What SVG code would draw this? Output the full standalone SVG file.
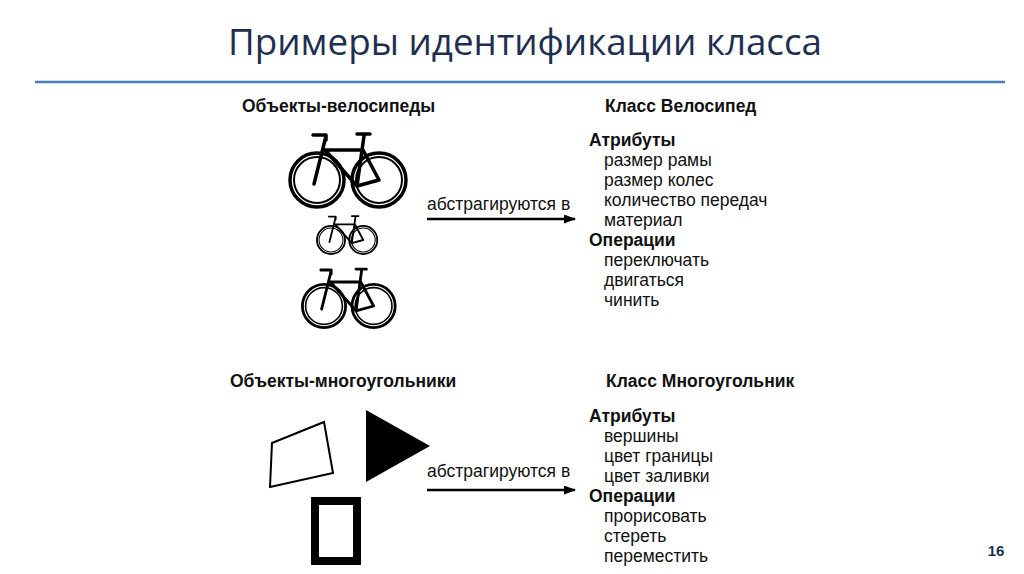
<svg xmlns="http://www.w3.org/2000/svg" width="1024" height="574" viewBox="0 0 1024 574">
<style>
.t{font-family:"Liberation Sans",Arial,sans-serif;font-size:17.5px;fill:#111}
.b{font-weight:bold}
.bk{fill:none;stroke:#000;stroke-width:3.5;stroke-linecap:round;stroke-linejoin:round}
</style>
<defs>
<marker id="ah" markerWidth="12" markerHeight="9" refX="11" refY="4.5" orient="auto" markerUnits="userSpaceOnUse"><path d="M0,0L12,4.5L0,9z" fill="#000"/></marker>
<g id="bike" class="bk">
<circle cx="0" cy="0" r="27"/><circle cx="0" cy="0" r="23" stroke-width="2"/>
<circle cx="62" cy="0" r="27"/><circle cx="62" cy="0" r="23" stroke-width="2"/>
<path d="M-3,4L9,-44M-4,-45H9V-40M8,-30H46M8,-30L40,6M47,-44L40,6M40,-46H53M40,6L62,0L46,-30"/>
</g>
</defs>
<rect width="1024" height="574" fill="#fff"/>
<text x="228" y="55" textLength="594" lengthAdjust="spacingAndGlyphs" font-family="'Open Sans','Liberation Sans',sans-serif" font-size="36" fill="#1f2f4f">Примеры идентификации класса</text>
<line x1="35" y1="82" x2="1005" y2="82" stroke="#4a7ebb" stroke-width="2.5"/>
<g id="bikes">
<use href="#bike" transform="translate(317,180)"/>
<use href="#bike" transform="translate(331,240) scale(0.52)"/>
<use href="#bike" transform="translate(324,306) scale(0.8)"/>
</g>
<g id="shapes">
<polygon points="272,443 324,422 333,473 270,487" fill="none" stroke="#000" stroke-width="2"/>
<polygon points="366,410 430,446 366,482" fill="#000"/>
<rect x="315" y="501" width="42" height="60" fill="none" stroke="#000" stroke-width="8"/>
</g>
<g id="labels">
<text class="t b" x="242" y="112">Объекты-велосипеды</text>
<text class="t b" x="605" y="112">Класс Велосипед</text>
<text class="t b" x="230" y="387">Объекты-многоугольники</text>
<text class="t b" x="606" y="387">Класс Многоугольник</text>
</g>
<g id="class1" class="t">
<text class="b" x="589" y="146">Атрибуты</text>
<text x="604" y="166">размер рамы</text>
<text x="604" y="186">размер колес</text>
<text x="604" y="206">количество передач</text>
<text x="604" y="226">материал</text>
<text class="b" x="589" y="246">Операции</text>
<text x="604" y="266">переключать</text>
<text x="604" y="286">двигаться</text>
<text x="604" y="306">чинить</text>
</g>
<g id="class2" class="t">
<text class="b" x="589" y="422">Атрибуты</text>
<text x="604" y="442">вершины</text>
<text x="604" y="462">цвет границы</text>
<text x="604" y="482">цвет заливки</text>
<text class="b" x="589" y="502">Операции</text>
<text x="604" y="522">прорисовать</text>
<text x="604" y="542">стереть</text>
<text x="604" y="562">переместить</text>
</g>
<g id="connectors">
<line x1="427" y1="219" x2="575" y2="219" stroke="#000" stroke-width="2.5" marker-end="url(#ah)"/>
<line x1="427" y1="490" x2="575" y2="490" stroke="#000" stroke-width="2.5" marker-end="url(#ah)"/>
<text class="t" x="427" y="210">абстрагируются в</text>
<text class="t" x="427" y="477">абстрагируются в</text>
</g>
<text x="996" y="556" text-anchor="middle" font-family="'Liberation Sans',sans-serif" font-size="15" font-weight="bold" fill="#1f2f4f">16</text>
</svg>
